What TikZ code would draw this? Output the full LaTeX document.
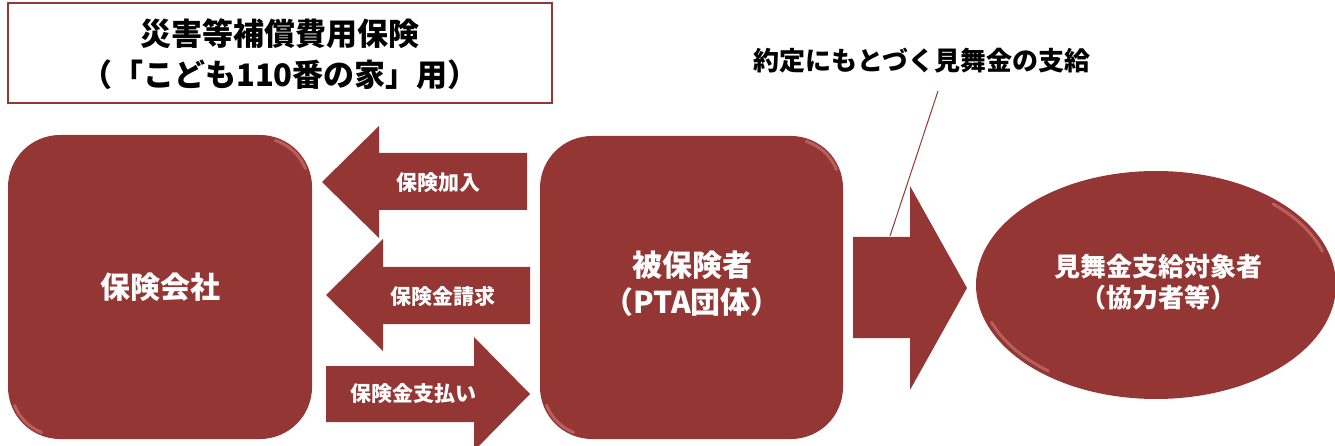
\documentclass[tikz,border=0pt]{standalone}
\usepackage{fontspec}
\newfontfamily\cjk{Noto Sans CJK JP}
\usetikzlibrary{shapes.geometric}
\definecolor{dred}{RGB}{148,54,52}
\definecolor{hilite}{RGB}{214,128,124}
\tikzset{
  blockfill/.style={fill=dred},
  glow/.style={draw=hilite, line width=3pt, line cap=round, opacity=0.55},
  boxtext/.style={text=white, font=\cjk\bfseries\fontsize{30}{37}\selectfont, align=center, inner sep=0pt},
  arrowtext/.style={text=white, font=\cjk\bfseries\fontsize{21}{24}\selectfont, inner sep=0pt},
  blacktext/.style={text=black, font=\cjk\bfseries\fontsize{31}{41}\selectfont, align=center, inner sep=0pt},
}
\begin{document}
\begin{tikzpicture}[x=1pt,y=-1pt]
\useasboundingbox (0,0) rectangle (1335,446);
% title box
\draw[dred, line width=1.6pt] (8,3) rectangle (552,103);
\node[blacktext] (title) at (280,54) {災害等補償費用保険\\（「こども110番の家」用）};
% insurer box
\fill[blockfill, rounded corners=52pt] (8,135) rectangle (312,439);
\draw[glow] plot[domain=-72:-22, samples=20] ({260+49*cos(\x)},{187+49*sin(\x)});
\draw[glow] plot[domain=112:158, samples=20] ({60+49*cos(\x)},{387+49*sin(\x)});
\node[boxtext] (insurer) at (160,287) {保険会社};
% insured box
\fill[blockfill, rounded corners=52pt] (540,136) rectangle (843,439);
\draw[glow] plot[domain=-72:-22, samples=20] ({791+49*cos(\x)},{188+49*sin(\x)});
\draw[glow] plot[domain=112:158, samples=20] ({592+49*cos(\x)},{387+49*sin(\x)});
\node[boxtext] (insured) at (692,284) {被保険者\\（PTA団体）};
% ellipse
\node[ellipse, fill=dred, minimum width=360pt, minimum height=228pt, inner sep=0pt] (target) at (1156,285) {};
\draw[glow] plot[domain=-48:-18, samples=20] ({1156+175*cos(\x)},{285+109*sin(\x)});
\draw[glow] plot[domain=128:160, samples=20] ({1156+175*cos(\x)},{285+109*sin(\x)});
\node[text=white, font=\cjk\bfseries\fontsize{26}{31}\selectfont, align=center, inner sep=0pt] (targettext) at (1158,282) {見舞金支給対象者\\（協力者等）};
% arrow 1 (left)
\fill[blockfill] (322,182) -- (379,126) -- (379,153) -- (527,153) -- (527,210) -- (379,210) -- (379,238) -- cycle;
\node[arrowtext] (a1) at (438,183) {保険加入};
% arrow 2 (left)
\fill[blockfill] (326,295) -- (383,239) -- (383,267) -- (530,267) -- (530,324) -- (383,324) -- (383,351) -- cycle;
\node[arrowtext] (a2) at (443,296) {保険金請求};
% arrow 3 (right)
\fill[blockfill] (530,394) -- (474,337) -- (474,366) -- (326,366) -- (326,422) -- (474,422) -- (474,451) -- cycle;
\node[arrowtext] (a3) at (413,394) {保険金支払い};
% big arrow
\fill[blockfill] (967,288) -- (910,186) -- (910,237) -- (853,237) -- (853,338) -- (910,338) -- (910,390) -- cycle;
% callout
\node[text=black, font=\cjk\bfseries\fontsize{26}{30}\selectfont, inner sep=0pt] (callout) at (922,61) {約定にもとづく見舞金の支給};
\coordinate (cstart) at (938,91);
\coordinate (cend) at (890,236);
\draw[dred, line width=1pt] (cstart) -- (cend);
\end{tikzpicture}
\end{document}
